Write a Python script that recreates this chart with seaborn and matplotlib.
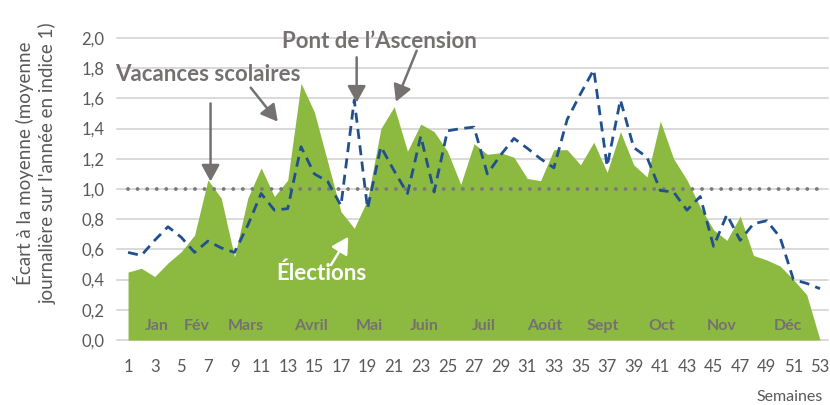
import matplotlib
matplotlib.use("Agg")
import matplotlib.pyplot as plt
import numpy as np
import seaborn as sns
from matplotlib.ticker import FuncFormatter

# Weekly index (1 = yearly daily average)
semaines = list(range(1, 54))
serie_aire = [0.45, 0.475, 0.42, 0.51, 0.585, 0.695, 1.06, 0.94, 0.55, 0.94,
              1.14, 0.95, 1.06, 1.70, 1.51, 1.18, 0.85, 0.74, 0.93, 1.40,
              1.545, 1.25, 1.43, 1.38, 1.25, 1.03, 1.30, 1.23, 1.24, 1.21,
              1.07, 1.055, 1.26, 1.26, 1.16, 1.31, 1.11, 1.38, 1.16, 1.08,
              1.45, 1.20, 1.06, 0.88, 0.73, 0.66, 0.82, 0.56, 0.53, 0.49,
              0.40, 0.30, 0.0]
serie_tirets = [0.58, 0.56, 0.66, 0.75, 0.68, 0.58, 0.655, 0.61, 0.58, 0.76,
                0.97, 0.86, 0.87, 1.28, 1.10, 1.05, 0.89, 1.59, 0.87, 1.28,
                1.12, 0.97, 1.35, 0.98, 1.385, 1.40, 1.41, 1.10, 1.225, 1.335,
                1.27, 1.20, 1.14, 1.46, 1.63, 1.79, 1.15, 1.59, 1.275, 1.21,
                0.99, 0.98, 0.86, 0.95, 0.62, 0.83, 0.66, 0.77, 0.79, 0.68,
                0.40, 0.375, 0.34]
indice_ref = 1.0

mois = ["Jan", "Fév", "Mars", "Avril", "Mai", "Juin", "Juil", "Août",
        "Sept", "Oct", "Nov", "Déc"]
mois_pos = [3.15, 6.15, 9.85, 14.75, 19.15, 23.3, 27.7, 32.3, 36.65,
            41.1, 45.6, 50.55]

VERT = "#8CB940"
BLEU = "#21508F"
GRIS_TXT = "#767171"
GRIS_AXE = "#595959"

sns.set_theme(style="white")
plt.rcParams["font.family"] = ["Lato", "DejaVu Sans"]

W, H = 830, 405
fig = plt.figure(figsize=(W / 100, H / 100), dpi=100)
ax = fig.add_axes([117 / W, 1 - 340 / H, (828 - 117) / W, (340 - 38) / H])

ax.fill_between(semaines, 0, serie_aire, color=VERT, lw=0, zorder=2)
sns.lineplot(x=semaines, y=serie_tirets, ax=ax, color=BLEU, lw=2.0,
             linestyle=(0, (3.6, 2.3)), zorder=4)
sns.lineplot(x=[semaines[0], semaines[-1]], y=[indice_ref, indice_ref], ax=ax,
             color="#7A7A7A", lw=2.8, linestyle=(0, (0.01, 2.45)),
             dash_capstyle="round", zorder=3)

ax.set_xlim(0.17, 53.6)
ax.set_ylim(0, 2.0)
ax.set_yticks(np.arange(0, 2.01, 0.2))
ax.set_xticks(range(1, 54, 2))
ax.yaxis.set_major_formatter(FuncFormatter(lambda v, _: f"{v:.1f}".replace(".", ",")))
ax.yaxis.grid(True, color="#D9D9D9", lw=1.4)
ax.xaxis.grid(False)
for gl in ax.get_ygridlines():
    gl.set_clip_on(False)
ax.set_axisbelow(True)
for sp in ax.spines.values():
    sp.set_visible(False)
ax.tick_params(axis="y", length=0, pad=9, labelsize=12, labelcolor=GRIS_AXE)
ax.tick_params(axis="x", length=0, pad=14, labelsize=12, labelcolor=GRIS_AXE)
ax.set_xlabel("")
ax.set_ylabel("")

for nom, pos in zip(mois, mois_pos):
    ax.text(pos, 0.095, nom, ha="center", va="center", fontsize=11.5,
            fontweight="bold", color=GRIS_TXT, zorder=5)

fleche = dict(arrowstyle="-|>,head_length=1.0,head_width=0.55", lw=1.8,
              color=GRIS_TXT, shrinkA=0, shrinkB=0, mutation_scale=10)
fleche_blanche = dict(fleche, color="white")

ax.text(6.97, 1.76, "Vacances scolaires", ha="center", va="center",
        fontsize=16, fontweight="bold", color=GRIS_TXT, zorder=6)
ax.annotate("", xy=(7.2, 1.05), xytext=(7.2, 1.567), arrowprops=fleche, zorder=6)
ax.annotate("", xy=(12.25, 1.446), xytext=(10.22, 1.671), arrowprops=fleche, zorder=6)

ax.text(19.89, 1.975, "Pont de l\u2019Ascension", ha="center", va="center",
        fontsize=16, fontweight="bold", color=GRIS_TXT, zorder=6)
ax.annotate("", xy=(18.18, 1.572), xytext=(18.18, 1.872), arrowprops=fleche, zorder=6)
ax.annotate("", xy=(21.13, 1.578), xytext=(22.69, 1.916), arrowprops=fleche, zorder=6)

ax.text(15.55, 0.442, "Élections", ha="center", va="center",
        fontsize=16, fontweight="bold", color="white", zorder=6)
ax.annotate("", xy=(17.55, 0.684), xytext=(16.25, 0.497),
            arrowprops=fleche_blanche, zorder=6)

fig.text(790 / W, 1 - 397 / H, "Semaines", ha="center", va="center",
         fontsize=11.5, color=GRIS_AXE)
fig.text(35 / W, 1 - 163 / H,
         "Écart à la moyenne (moyenne\njournalière sur l'année en indice 1)",
         rotation=90, ha="center", va="center", multialignment="center",
         fontsize=13.5, color=GRIS_AXE, linespacing=1.3)

fig.savefig("out.png", dpi=100)
